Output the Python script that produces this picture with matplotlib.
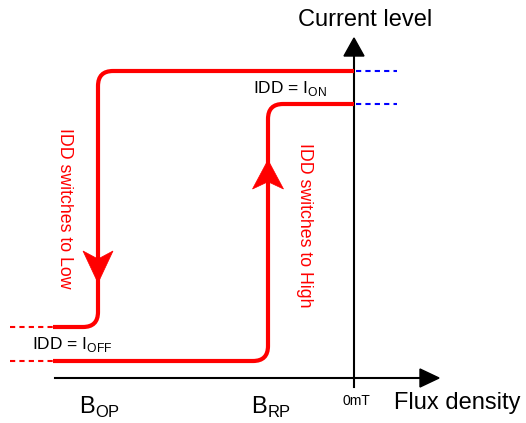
import matplotlib
matplotlib.use("Agg")
from matplotlib import pyplot as plt
from matplotlib.path import Path
from matplotlib.patches import PathPatch, Polygon

plt.rcParams['font.family'] = ['Liberation Sans', 'DejaVu Sans']
plt.rcParams['mathtext.fontset'] = 'custom'
plt.rcParams['mathtext.rm'] = 'Liberation Sans'

# diagram levels (canvas units, y grows downwards)
x_left = 10
x_start = 53
b_op = 98
b_rp = 268
b_zero = 354
x_dot_end = 397
i_on = 71
i_on_rp = 104
i_off = 327
i_off_rp = 361
axis_y = 378
axis_x0 = 55
axis_x1 = 439
axis_top = 38

red = '#ff0000'
radius = 15


def rounded(points, r):
    # polyline with rounded corners built from quadratic curves
    verts = [points[0]]
    codes = [Path.MOVETO]
    for i in range(1, len(points) - 1):
        (x0, y0), (x1, y1), (x2, y2) = points[i - 1], points[i], points[i + 1]
        d1 = ((x1 - x0) ** 2 + (y1 - y0) ** 2) ** 0.5
        d2 = ((x2 - x1) ** 2 + (y2 - y1) ** 2) ** 0.5
        a = (x1 - (x1 - x0) * r / d1, y1 - (y1 - y0) * r / d1)
        b = (x1 + (x2 - x1) * r / d2, y1 + (y2 - y1) * r / d2)
        verts += [a, (x1, y1), b]
        codes += [Path.LINETO, Path.CURVE3, Path.CURVE3]
    verts.append(points[-1])
    codes.append(Path.LINETO)
    return Path(verts, codes)


def arrow_head(ax, x, y, w, h, direction, color):
    # direction: +1 points down, -1 points up
    pts = [(x - w / 2, y - direction * h), (x, y), (x + w / 2, y - direction * h),
           (x, y - direction * h * 0.75)]
    ax.add_patch(Polygon(pts, closed=True, facecolor=color, edgecolor=color, lw=0.5, zorder=5))


fig = plt.figure(figsize=(5.26, 4.23), dpi=100)
ax = fig.add_axes([0, 0, 1, 1])
ax.set_xlim(0, 526)
ax.set_ylim(423, 0)
ax.axis('off')

# axes
ax.plot([axis_x0, axis_x1 - 15], [axis_y, axis_y], color='black', lw=1.5)
ax.plot([b_zero, b_zero], [axis_y + 9, axis_top + 12], color='black', lw=1.5)
ax.add_patch(Polygon([(axis_x1, axis_y), (axis_x1 - 19, axis_y - 9), (axis_x1 - 19, axis_y + 9)],
                     closed=True, color='black'))
ax.add_patch(Polygon([(b_zero, axis_top), (b_zero - 10, axis_top + 18), (b_zero + 10, axis_top + 18)],
                     closed=True, color='black'))

# hysteresis paths
low_path = rounded([(b_zero, i_on), (b_op, i_on), (b_op, i_off), (x_start, i_off)], radius)
high_path = rounded([(x_start, i_off_rp), (b_rp, i_off_rp), (b_rp, i_on_rp), (b_zero, i_on_rp)], radius)
for p in (low_path, high_path):
    ax.add_patch(PathPatch(p, facecolor='none', edgecolor=red, lw=3, capstyle='butt', zorder=4))

# dotted continuations
for yy in (i_off, i_off_rp):
    ax.plot([x_left, x_start], [yy, yy], color=red, lw=1.5, dashes=(2.5, 2))
for yy in (i_on, i_on_rp):
    ax.plot([b_zero + 2, x_dot_end], [yy, yy], color='#0000ff', lw=1.5, dashes=(2.5, 2))

arrow_head(ax, b_op, 283, 30, 32, 1, red)
arrow_head(ax, b_rp, 160, 31, 29, -1, red)

# labels
ax.text(365, 20, 'Current level', fontsize=17, ha='center', va='center')
ax.text(394, 403, 'Flux density', fontsize=17, ha='left', va='center')
ax.text(356, 401, '0mT', fontsize=10, ha='center', va='center')
ax.text(79, 407, r'B$_\mathrm{OP}$', fontsize=17, ha='left', va='center')
ax.text(251, 407, r'B$_\mathrm{RP}$', fontsize=17, ha='left', va='center')
ax.text(253, 88, r'IDD = I$_\mathrm{ON}$', fontsize=12.5, ha='left', va='center')
ax.text(32, 345, r'IDD = I$_\mathrm{OFF}$', fontsize=12.5, ha='left', va='center')
ax.text(64, 208, 'IDD switches to Low', fontsize=12.8, color=red, rotation=-90,
        ha='center', va='center')
ax.text(304, 225, 'IDD switches to High', fontsize=12.8, color=red, rotation=-90,
        ha='center', va='center')

fig.savefig('out.png', dpi=100)
